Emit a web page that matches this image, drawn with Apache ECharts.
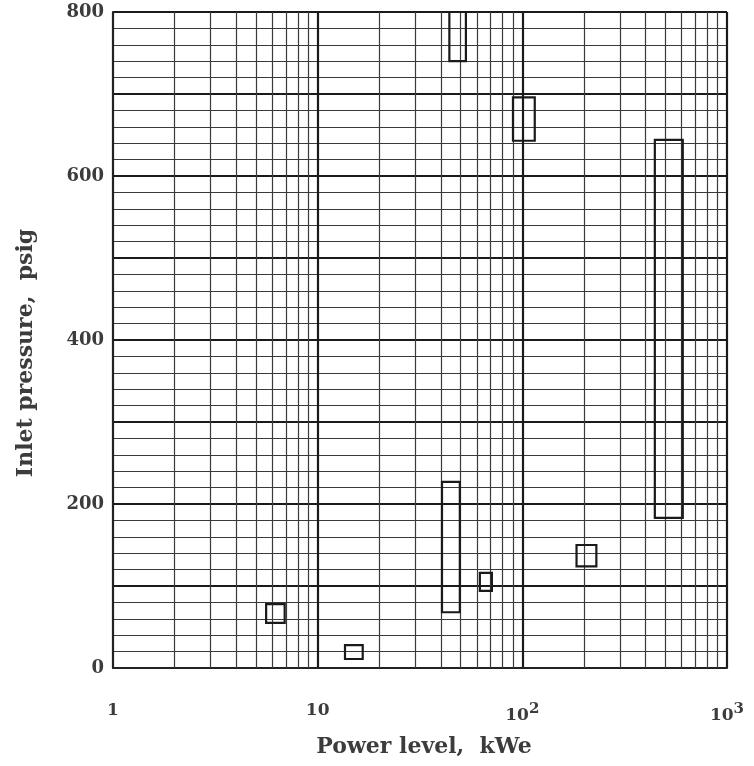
<!DOCTYPE html>
<html>
<head>
<meta charset="utf-8">
<script src="https://cdn.jsdelivr.net/npm/echarts@6/dist/echarts.min.js"></script>
<style>
html,body{margin:0;padding:0;background:#fff;}
#chart{width:754px;height:766px;}
</style>
</head>
<body>
<div id="chart"></div>
<script>
// Box extents (power level kWe, inlet pressure psig)
var boxXMin = [5.6, 13.6, 40.5, 62, 184, 444, 44, 90];
var boxXMax = [6.9, 16.6, 49.5, 71, 230, 608, 53, 115];
var boxYMin = [55, 11, 68, 94, 124, 183, 740, 643];
var boxYMax = [78, 28, 227, 116, 150, 644, 800, 696];

// Minor vertical grid values on the log axis
var minorXTicks = [2,3,4,5,6,7,8,9,20,30,40,50,60,70,80,90,200,300,400,500,600,700,800,900];
var yLabelValues = [0, 200, 400, 600, 800];

var FONT = 'DejaVu Serif';
var TXT = '#3c3c3c';
var boxData = boxXMin.map(function (v, i) {
  return [boxXMin[i], boxXMax[i], boxYMin[i], boxYMax[i]];
});

var chart = echarts.init(document.getElementById('chart'));
chart.setOption({
  backgroundColor: '#fff',
  animation: false,
  grid: { left: 113, right: 27, top: 12, bottom: 98 },
  xAxis: {
    type: 'log', logBase: 10, min: 1, max: 1000,
    name: 'Power level,  kWe', nameLocation: 'middle', nameGap: 68,
    nameTextStyle: { fontFamily: FONT, fontSize: 22, fontWeight: 'bold', color: TXT, padding: [0, 0, 0, 8] },
    axisLine: { show: true, lineStyle: { color: '#222', width: 2 } },
    axisTick: { show: false },
    axisLabel: {
      margin: 34, fontFamily: FONT, fontSize: 17, fontWeight: 'bold', color: TXT,
      formatter: function (v) {
        if (v === 1) return '1';
        if (v === 10) return '10';
        if (v === 100) return '10{sup|2}';
        if (v === 1000) return '10{sup|3}';
        return '';
      },
      rich: { sup: { fontFamily: FONT, fontSize: 15, fontWeight: 'bold', color: TXT, verticalAlign: 'top', padding: [0,0,13,0] } }
    },
    splitLine: { show: true, lineStyle: { color: '#1a1a1a', width: 2.2 } }
  },
  yAxis: {
    type: 'value', min: 0, max: 800, interval: 100,
    name: 'Inlet pressure,  psig', nameLocation: 'middle', nameGap: 76,
    nameTextStyle: { fontFamily: FONT, fontSize: 22, fontWeight: 'bold', color: TXT, padding: [0, 26, 0, 0] },
    axisLine: { show: true, lineStyle: { color: '#222', width: 2 } },
    axisTick: { show: false },
    minorTick: { show: false, splitNumber: 5 },
    axisLabel: {
      margin: 9, fontFamily: FONT, fontSize: 18, fontWeight: 'bold', color: TXT,
      formatter: function (v) { return yLabelValues.indexOf(v) >= 0 ? String(v) : ''; }
    },
    splitLine: { show: true, lineStyle: { color: '#1a1a1a', width: 2.2 } },
    minorSplitLine: { show: true, lineStyle: { color: '#3a3a3a', width: 1.2 } }
  },
  series: [
    {
      type: 'line', data: [], silent: true,
      markLine: {
        silent: true, symbol: 'none', animation: false,
        label: { show: false },
        lineStyle: { color: '#3a3a3a', width: 1.2, type: 'solid' },
        data: minorXTicks.map(function (v) { return { xAxis: v }; })
      }
    },
    {
      type: 'custom',
      data: boxData,
      encode: { x: [0, 1], y: [2, 3] },
      renderItem: function (params, api) {
        var p0 = api.coord([api.value(0), api.value(3)]);
        var p1 = api.coord([api.value(1), api.value(2)]);
        return {
          type: 'rect',
          shape: { x: p0[0], y: p0[1], width: p1[0] - p0[0], height: p1[1] - p0[1] },
          style: { fill: 'rgba(255,255,255,0)', stroke: '#1a1a1a', lineWidth: 2.2 }
        };
      },
      z: 10
    }
  ]
});
</script>
</body>
</html>
